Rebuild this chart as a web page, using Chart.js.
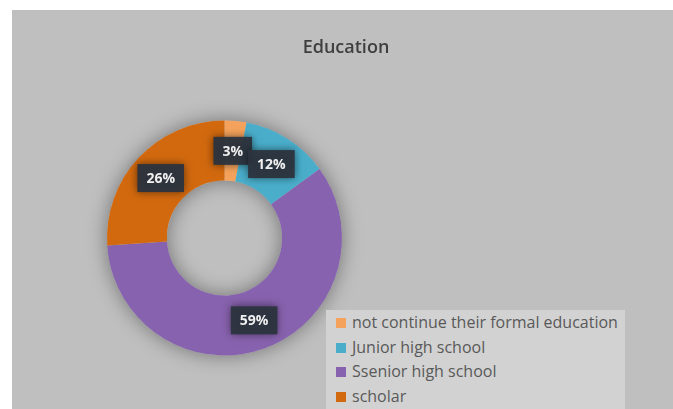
<!DOCTYPE html>
<html>
<head>
<meta charset="utf-8">
<script src="https://cdn.jsdelivr.net/npm/chart.js@4"></script>
<style>
  body { margin: 0; background: #fff; width: 673px; height: 409px; overflow: hidden; position: relative; font-family: "Open Sans", sans-serif; }
  #panel { position: absolute; left: 12px; top: 10px; right: 0; bottom: 0; background: #bfbfbf; }
  #chart { position: absolute; left: 0; top: 0; }
  #title { position: absolute; left: 246px; width: 200px; top: 34px; text-align: center; font-size: 18px; font-weight: 600; color: #3f3f3f; }
  #legend { position: absolute; left: 326px; top: 310px; width: 299px; height: 99px; background: #d2d2d2; }
  .legend-item { position: absolute; left: 0; height: 20px; font-size: 16px; color: #595959; white-space: nowrap; }
  .legend-box { position: absolute; left: 10px; top: 5px; width: 10px; height: 10px; }
  .legend-text { position: absolute; left: 26px; top: -1px; line-height: 20px; }
</style>
</head>
<body>
<div id="panel"></div>
<canvas id="chart" width="673" height="409"></canvas>
<div id="title">Education</div>
<div id="legend"></div>
<script>
const LABELS = ["not continue their formal education", "Junior high school", "Ssenior high school", "scholar"];
const VALUES = [3, 12, 59, 26];
const COLORS = ["#f5a35c", "#4aaecb", "#8762ae", "#d2690f"];

// soft shadow under the ring, like the office chart
const ringShadow = {
  id: "ringShadow",
  beforeDatasetsDraw(chart) {
    var arc = chart.getDatasetMeta(0).data[0];
    if (!arc) return;
    var ctx = chart.ctx;
    ctx.save();
    ctx.shadowColor = "rgba(0,0,0,0.4)";
    ctx.shadowBlur = 20;
    ctx.fillStyle = "#bfbfbf";
    ctx.beginPath();
    ctx.arc(arc.x, arc.y, arc.outerRadius, 0, Math.PI * 2);
    ctx.arc(arc.x, arc.y, arc.innerRadius, 0, Math.PI * 2, true);
    ctx.fill();
    ctx.restore();
  }
};

const valueLabels = {
  id: "valueLabels",
  afterDatasetsDraw(chart) {
    var ctx = chart.ctx;
    ctx.save();
    ctx.font = "bold 14px 'Open Sans'";
    ctx.textAlign = "center";
    ctx.textBaseline = "middle";
    chart.getDatasetMeta(0).data.forEach((arc, i) => {
      var pos = arc.tooltipPosition();
      var text = VALUES[i] + "%";
      var w = ctx.measureText(text).width + 18;
      var h = 28;
      ctx.shadowColor = "rgba(0,0,0,0.55)";
      ctx.shadowBlur = 8;
      ctx.fillStyle = "rgba(44,52,62,0.95)";
      ctx.fillRect(pos.x - w / 2, pos.y - h / 2, w, h);
      ctx.shadowBlur = 0;
      ctx.fillStyle = "#f0f0f0";
      ctx.fillText(text, pos.x, pos.y + 1);
    });
    ctx.restore();
  }
};

function buildLegend() {
  var legend = document.getElementById("legend");
  legend.innerHTML = "";
  LABELS.forEach((label, i) => {
    var item = document.createElement("div");
    item.classList.add("legend-item");
    item.style.top = (3 + i * 24.5) + "px";

    var box = document.createElement("span");
    box.classList.add("legend-box");
    box.style.background = COLORS[i];

    var text = document.createElement("span");
    text.classList.add("legend-text");
    text.innerText = label;

    item.append(box, text);
    legend.append(item);
  });
}

new Chart("chart", {
  type: "doughnut",
  data: {
    labels: LABELS,
    datasets: [{
      data: VALUES,
      backgroundColor: COLORS,
      borderWidth: 0
    }]
  },
  options: {
    responsive: false,
    animation: false,
    events: [],
    cutout: "49%",
    layout: { padding: { left: 107, right: 331, top: 120, bottom: 53 } },
    plugins: {
      legend: { display: false },
      tooltip: { enabled: false }
    }
  },
  plugins: [ringShadow, valueLabels]
});

buildLegend();
</script>
</body>
</html>
